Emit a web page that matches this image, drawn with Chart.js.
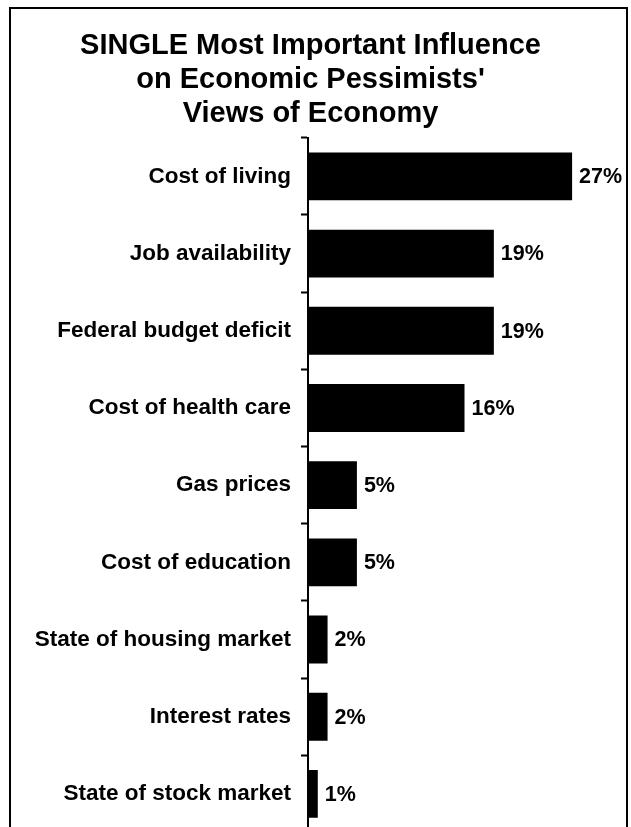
<!DOCTYPE html>
<html>
<head>
<meta charset="utf-8">
<script src="https://cdn.jsdelivr.net/npm/chart.js@4"></script>
<style>
  html, body { margin: 0; padding: 0; background: #fff; overflow: hidden; }
  #wrap { position: relative; width: 631px; height: 860px; }
  #frame { position: absolute; left: 9px; top: 7px; width: 619px; height: 900px; border: 2px solid #000; box-sizing: border-box; pointer-events: none; }
  canvas { position: absolute; left: 0; top: 0; }
</style>
</head>
<body>
<div id="wrap">
  <canvas id="c" width="631" height="856"></canvas>
  <div id="frame"></div>
</div>
<script>
const titleLines = ["SINGLE Most Important Influence", "on Economic Pessimists'", "Views of Economy"];
const categories = [
  "Cost of living",
  "Job availability",
  "Federal budget deficit",
  "Cost of health care",
  "Gas prices",
  "Cost of education",
  "State of housing market",
  "Interest rates",
  "State of stock market"
];
const percentages = [27, 19, 19, 16, 5, 5, 2, 2, 1];

const FONT = "'Liberation Sans', Arial, Helvetica, sans-serif";

// Writes the percentage just past the end of each bar
const valueLabels = {
  id: 'valueLabels',
  afterDatasetsDraw(chart) {
    const { ctx } = chart;
    const meta = chart.getDatasetMeta(0);
    ctx.save();
    ctx.fillStyle = '#000';
    ctx.font = "bold 21.5px " + FONT;
    ctx.textAlign = 'left';
    ctx.textBaseline = 'middle';
    meta.data.forEach((bar, i) => {
      ctx.fillText(percentages[i] + '%', bar.x + 7, bar.y + 1);
    });
    ctx.restore();
  }
};

new Chart(document.getElementById('c'), {
  type: 'bar',
  data: {
    labels: categories,
    datasets: [{
      data: percentages,
      backgroundColor: '#000',
      borderWidth: 0,
      barPercentage: 0.62,
      categoryPercentage: 1.0
    }]
  },
  options: {
    indexAxis: 'y',
    responsive: false,
    animation: false,
    devicePixelRatio: 1,
    layout: { padding: { left: 0, right: 10, top: 0, bottom: 9 } },
    plugins: {
      legend: { display: false },
      tooltip: { enabled: false },
      title: {
        display: true,
        text: titleLines,
        color: '#000',
        font: { family: FONT, size: 29, weight: 'bold', lineHeight: 1.17 },
        padding: { top: 29, bottom: 7 }
      }
    },
    scales: {
      x: {
        display: false,
        min: 0,
        max: 32
      },
      y: {
        offset: true,
        grid: {
          drawOnChartArea: false,
          drawTicks: true,
          tickLength: 7,
          tickWidth: 2,
          color: '#000',
          offset: true
        },
        border: { display: true, color: '#000', width: 2 },
        ticks: {
          color: '#000',
          padding: 10,
          autoSkip: false,
          font: { family: FONT, size: 22.5, weight: 'bold' }
        },
        afterFit(scale) { scale.width = 308; }
      }
    }
  },
  plugins: [valueLabels]
});
</script>
</body>
</html>
